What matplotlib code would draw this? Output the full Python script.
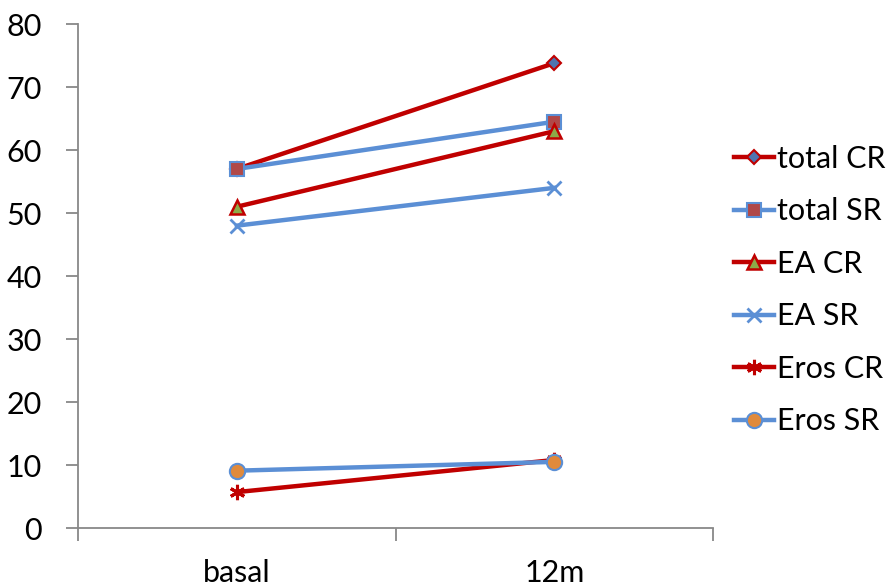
import numpy as np
import matplotlib.pyplot as plt

# categories and series values
categories = ['basal', '12m']
total_cr = [57.0, 73.8]
total_sr = [57.0, 64.5]
ea_cr = [51.0, 63.0]
ea_sr = [48.0, 54.0]
eros_cr = [5.7, 10.8]
eros_sr = [9.1, 10.5]

red = '#C00000'
blue = '#5B8FD5'

plt.rcParams['font.family'] = ['Lato', 'DejaVu Sans']

fig = plt.figure(figsize=(8.87, 5.87), dpi=100)
ax = fig.add_axes([0.088, 0.1005, 0.716, 0.8585])

x = np.arange(len(categories))
lw = 3.2
ms = 9

ax.plot(x, total_cr, color=red, lw=lw, marker='D', ms=ms - 1.5,
        mfc='#4F74B0', mec=red, mew=1.5, label='total CR')
ax.plot(x, total_sr, color=blue, lw=lw, marker='s', ms=ms + 1,
        mfc='#B04848', mec=blue, mew=1.5, label='total SR')
ax.plot(x, ea_cr, color=red, lw=lw, marker='^', ms=ms + 1,
        mfc='#8DAA48', mec=red, mew=1.8, label='EA CR')
ax.plot(x, ea_sr, color=blue, lw=lw, marker='x', ms=ms + 1,
        mec=blue, mew=2, label='EA SR')
ax.plot(x, eros_cr, color=red, lw=lw, marker=(6, 2, 0), ms=ms + 2,
        mec=red, mew=2.2, label='Eros CR')
ax.plot(x, eros_sr, color=blue, lw=lw, marker='o', ms=ms + 2,
        mfc='#E08A3C', mec=blue, mew=1.5, label='Eros SR')

ax.set_xlim(-0.5, 1.5)
ax.set_ylim(0, 80)
ax.set_yticks(np.arange(0, 81, 10))
ax.set_xticks(x)
ax.set_xticklabels(categories)
ax.set_xticks([-0.5, 0.5, 1.5], minor=True)
ax.tick_params(axis='x', which='major', length=0, pad=22, labelsize=22)
ax.tick_params(axis='x', which='minor', length=9, width=1.3, color='#888888', direction='out')
ax.tick_params(axis='y', length=9, width=1.3, color='#888888', pad=17, labelsize=22)

for s in ['top', 'right']:
    ax.spines[s].set_visible(False)
for s in ['left', 'bottom']:
    ax.spines[s].set_color('#888888')
    ax.spines[s].set_linewidth(1.3)

ax.legend(loc='center left', bbox_to_anchor=(0.99, 0.472), frameon=False,
          fontsize=22, handlelength=1.3, handletextpad=0.1, labelspacing=0.8)

fig.savefig('out.png', dpi=100)
